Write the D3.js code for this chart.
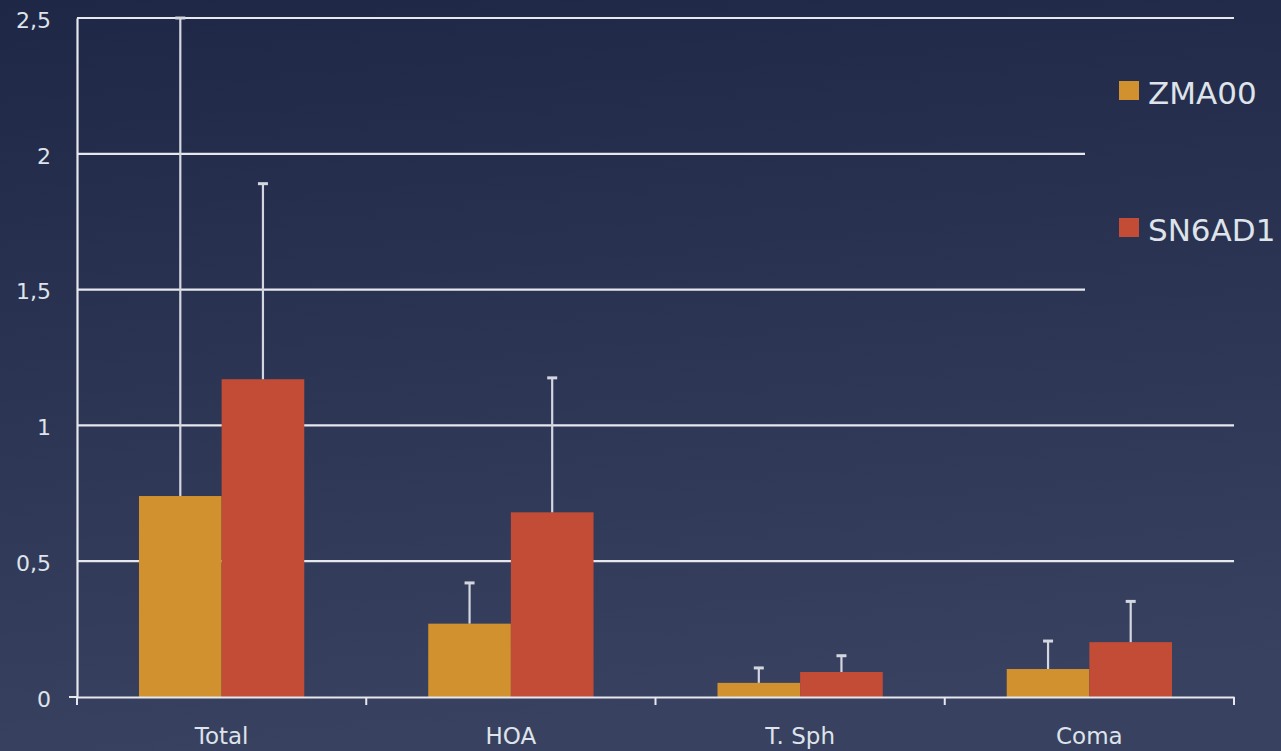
<!DOCTYPE html>
<html><head><meta charset="utf-8">
<script src="https://cdn.jsdelivr.net/npm/d3@7"></script>
<style>html,body{margin:0;padding:0;background:#262f4e;overflow:hidden}</style>
</head><body>
<svg id="chart" width="1281" height="751"></svg>
<script>
const categories = ["Total", "HOA", "T. Sph", "Coma"];
const seriesNames = ["ZMA00", "SN6AD1"];
const zma00 = [0.74, 0.27, 0.052, 0.103];
const sn6ad1 = [1.17, 0.68, 0.092, 0.202];
const zma00Err = [1.76, 0.15, 0.055, 0.103];
const sn6ad1Err = [0.72, 0.495, 0.06, 0.15];
const yTicks = [0, 0.5, 1, 1.5, 2, 2.5];
const colors = ["#d0912e", "#c34c37"];

(function () {
const svg = d3.select("#chart");
const W = 1281, H = 751;
const defs = svg.append("defs");
const g = defs.append("linearGradient").attr("id","bg").attr("x1",0).attr("y1",0).attr("x2",0.15).attr("y2",1);
g.append("stop").attr("offset","0%").attr("stop-color","#1e2746");
g.append("stop").attr("offset","100%").attr("stop-color","#384260");
svg.append("rect").attr("width",W).attr("height",H).attr("fill","url(#bg)");

const mLeft = 77, mRight = 1234, mTop = 18, mBottom = 697;
const x = d3.scaleBand().domain(categories).range([mLeft, mRight]).paddingInner(0).paddingOuter(0);
const xs = d3.scaleBand().domain(seriesNames).range([0, x.bandwidth()]).paddingInner(0).paddingOuter(0.75);
const y = d3.scaleLinear().domain([0, 2.5]).range([mBottom, mTop]);
const fmt = v => String(v).replace(".", ",");
const textColor = "#dfe3ea";
const lineColor = "#e6e8ee";

// gridlines
const legendEdge = 1085;
svg.append("g").selectAll("line").data(yTicks.filter(d => d > 0)).join("line")
  .attr("x1", mLeft).attr("x2", d => (d === 1.5 || d === 2) ? legendEdge : mRight)
  .attr("y1", d => y(d)).attr("y2", d => y(d))
  .attr("stroke", lineColor).attr("stroke-width", 2.2);

// y axis
const yAxis = svg.append("g").attr("transform", `translate(${mLeft},0)`)
  .call(d3.axisLeft(y).tickValues(yTicks).tickFormat(fmt).tickSize(0).tickPadding(26));
yAxis.select(".domain").attr("stroke", lineColor).attr("stroke-width", 2.2);
yAxis.selectAll("text").attr("fill", textColor).attr("dy", "0.42em")
  .style("font-family", "DejaVu Sans").style("font-size", "22px");
svg.append("line").attr("x1", mLeft - 8).attr("x2", mLeft).attr("y1", y(0)).attr("y2", y(0))
  .attr("stroke", lineColor).attr("stroke-width", 2);

// bars
const data = [];
categories.forEach((c, i) => {
  data.push({c, s: seriesNames[0], v: zma00[i], e: zma00Err[i], col: colors[0]});
  data.push({c, s: seriesNames[1], v: sn6ad1[i], e: sn6ad1Err[i], col: colors[1]});
});
svg.append("g").selectAll("rect").data(data).join("rect")
  .attr("x", d => x(d.c) + xs(d.s)).attr("width", xs.bandwidth())
  .attr("y", d => y(d.v)).attr("height", d => y(0) - y(d.v))
  .attr("fill", d => d.col);

// error bars
const cx = d => x(d.c) + xs(d.s) + xs.bandwidth() / 2;
const eb = svg.append("g");
eb.selectAll("line.v").data(data).join("line").attr("class","v")
  .attr("x1", cx).attr("x2", cx)
  .attr("y1", d => y(d.v)).attr("y2", d => y(d.v + d.e))
  .attr("stroke", "#d4d7df").attr("stroke-width", 2.2);
eb.selectAll("line.c").data(data).join("line").attr("class","c")
  .attr("x1", d => cx(d) - 5).attr("x2", d => cx(d) + 5)
  .attr("y1", d => y(d.v + d.e)).attr("y2", d => y(d.v + d.e))
  .attr("stroke", "#d4d7df").attr("stroke-width", 3);

// x axis
const xAxis = svg.append("g").attr("transform", `translate(0,${mBottom})`)
  .call(d3.axisBottom(x).tickSize(0).tickPadding(31));
xAxis.select(".domain").attr("stroke", lineColor).attr("stroke-width", 2.2);
xAxis.selectAll("text").attr("fill", textColor).style("font-family", "DejaVu Sans").style("font-size", "23px");
const bounds = categories.map(c => x(c)).concat([mRight]);
svg.append("g").selectAll("line").data(bounds).join("line")
  .attr("x1", d => d).attr("x2", d => d).attr("y1", mBottom).attr("y2", mBottom + 8)
  .attr("stroke", lineColor).attr("stroke-width", 2);

// legend
const lg = svg.append("g").selectAll("g").data(seriesNames).join("g")
  .attr("transform", (d, i) => `translate(1119,${81 + i * 137})`);
lg.append("rect").attr("width", 20).attr("height", 19).attr("fill", (d, i) => colors[i]);
lg.append("text").attr("x", 29).attr("y", 23).text(d => d)
  .attr("fill", textColor).style("font-family", "DejaVu Sans").style("font-size", "31px");
})();
</script>
</body></html>
